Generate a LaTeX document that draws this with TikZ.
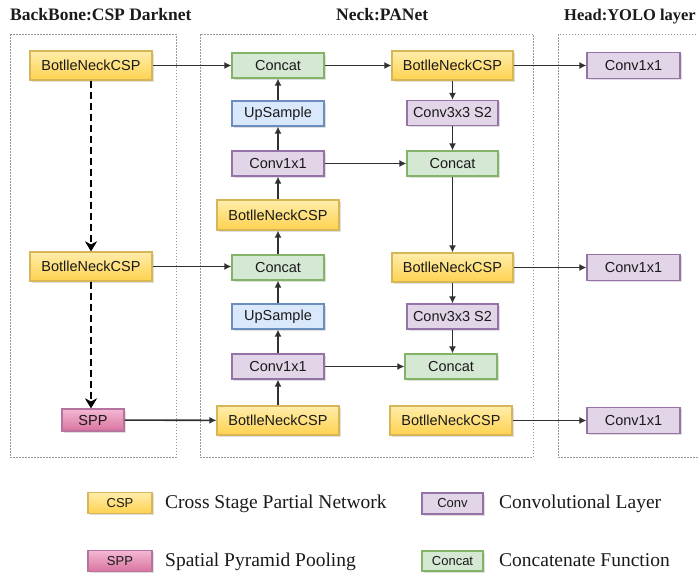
\documentclass[tikz,border=0pt]{standalone}
\usepackage{fontspec}
\setmainfont{Liberation Serif}
\setsansfont{Liberation Sans}
\usetikzlibrary{arrows.meta,shadows}
\definecolor{ylT}{HTML}{FFEDAA}
\definecolor{ylB}{HTML}{FFD250}
\definecolor{ylD}{HTML}{D6B656}
\definecolor{pkT}{HTML}{F3B8D4}
\definecolor{pkB}{HTML}{D9739F}
\definecolor{pkD}{HTML}{B5739D}
\definecolor{puF}{HTML}{E1D5E7}
\definecolor{puD}{HTML}{9673A6}
\definecolor{blF}{HTML}{DAE8FC}
\definecolor{blD}{HTML}{6C8EBF}
\definecolor{grF}{HTML}{D5E8D4}
\definecolor{grD}{HTML}{82B366}
\definecolor{lineC}{HTML}{303030}
\definecolor{txtC}{HTML}{1A1A1A}
\definecolor{frameC}{HTML}{9A9A9A}
\tikzset{
  blk/.style={draw, line width=1.2pt, inner sep=0pt, text=txtC,
    font=\sffamily\fontsize{14.5}{16}\selectfont,
    drop shadow={shadow xshift=1.5pt, shadow yshift=-1.5pt, opacity=0.25}},
  yel/.style={blk, top color=ylT, bottom color=ylB, draw=ylD, minimum width=122pt, minimum height=29pt},
  pnk/.style={blk, top color=pkT, bottom color=pkB, draw=pkD},
  pur/.style={blk, fill=puF, draw=puD, minimum width=92pt, minimum height=25pt},
  blu/.style={blk, fill=blF, draw=blD, minimum width=92pt, minimum height=25pt},
  grn/.style={blk, fill=grF, draw=grD, minimum width=92pt, minimum height=25pt},
  conn/.style={draw=lineC, line width=1.6pt, -{Latex[length=7pt,width=7pt]}},
  dconn/.style={draw=black, line width=2.8pt, dash pattern=on 7pt off 4pt,
    -{Stealth[length=10pt,width=12pt,inset=3pt]}},
  frame/.style={draw=frameC, line width=1pt, dash pattern=on 1.5pt off 1.5pt},
  ttl/.style={anchor=base west, inner sep=0pt, text=txtC, font=\bfseries\fontsize{17.5}{19}\selectfont},
  lgt/.style={anchor=base west, inner sep=0pt, text=txtC, font=\fontsize{19.5}{22}\selectfont},
  lgs/.style={font=\sffamily\fontsize{13}{14}\selectfont, minimum height=21pt}
}
\begin{document}
\begin{tikzpicture}[x=1pt,y=-1pt]
\useasboundingbox (0,0) rectangle (698,576);
% frames
\draw[frame] (10,34) rectangle (176,457);
\draw[frame] (200,34) rectangle (533,457);
\draw[frame] (558,34) rectangle (720,457);
% titles
\node[ttl] (t1) at (10,20.5) {BackBone:CSP Darknet};
\node[ttl] (t2) at (336,20.5) {Neck:PANet};
\node[ttl, font=\bfseries\fontsize{16.5}{18}\selectfont] (t3) at (564,20.5) {Head:YOLO layer};
% backbone
\node[yel] (bb1) at (91,65.5) {BotlleNeckCSP};
\node[yel] (bb2) at (91,266.5) {BotlleNeckCSP};
\node[pnk, minimum width=62pt, minimum height=22pt] (spp) at (93,420) {SPP};
% neck column 1
\node[grn] (nc1) at (278,65.5) {Concat};
\node[blu] (nu1) at (278,113.5) {UpSample};
\node[pur] (nv1) at (278,163.5) {Conv1x1};
\node[yel, minimum height=30pt] (nb1) at (278,215) {BotlleNeckCSP};
\node[grn] (nc2) at (278,267.5) {Concat};
\node[blu] (nu2) at (278,316.5) {UpSample};
\node[pur] (nv2) at (278,366.5) {Conv1x1};
\node[yel] (nb2) at (278,420.5) {BotlleNeckCSP};
% neck column 2
\node[yel, minimum width=121pt] (mb1) at (452.5,65.5) {BotlleNeckCSP};
\node[pur, minimum width=91pt] (m3a) at (452.5,113) {Conv3x3 S2};
\node[grn, minimum width=91pt] (mc1) at (452.5,163.5) {Concat};
\node[yel, minimum width=121pt] (mb2) at (452.5,267.5) {BotlleNeckCSP};
\node[pur, minimum width=91pt] (m3b) at (452.5,316.5) {Conv3x3 S2};
\node[grn] (mc2) at (451,366.5) {Concat};
\node[yel] (mb3) at (451,420.5) {BotlleNeckCSP};
% head
\node[pur, minimum width=93pt, minimum height=26pt] (h1) at (633.5,65.5) {Conv1x1};
\node[pur, minimum width=93pt, minimum height=26pt] (h2) at (633.5,267.5) {Conv1x1};
\node[pur, minimum width=93pt, minimum height=26pt] (h3) at (633.5,420.5) {Conv1x1};
% backbone connectors
\draw[dconn] (bb1) -- (bb2);
\draw[dconn] (bb2.south) -- (bb2.south |- spp.north);
\draw[conn] (bb1) -- (nc1);
\draw[conn] (bb2.east) -- (bb2.east -| nc2.west);
\draw[conn] (spp) -- (nb2);
% neck up path
\draw[conn] (nb2) -- (nv2);
\draw[conn] (nv2) -- (nu2);
\draw[conn] (nu2) -- (nc2);
\draw[conn] (nc2) -- (nb1);
\draw[conn] (nb1) -- (nv1);
\draw[conn] (nv1) -- (nu1);
\draw[conn] (nu1) -- (nc1);
\draw[conn] (nc1) -- (mb1);
% neck down path
\draw[conn] (mb1) -- (m3a);
\draw[conn] (m3a) -- (mc1);
\draw[conn] (mc1) -- (mb2);
\draw[conn] (mb2) -- (m3b);
\draw[conn] (m3b.south) -- (m3b.south |- mc2.north);
\draw[conn] (nv1) -- (mc1);
\draw[conn] (nv2) -- (mc2);
% to head
\draw[conn] (mb1) -- (h1);
\draw[conn] (mb2) -- (h2);
\draw[conn] (mb3) -- (h3);
% legend
\node[yel, lgs, minimum width=64pt, minimum height=21pt] (lcsp) at (120,503) {CSP};
\node[lgt] (lcspt) at (165,508) {Cross Stage Partial Network};
\node[pnk, lgs, minimum width=64pt] (lspp) at (120,561) {SPP};
\node[lgt] (lsppt) at (165,566) {Spatial Pyramid Pooling};
\node[pur, lgs, minimum width=61pt] (lconv) at (452.5,503.5) {Conv};
\node[lgt] (lconvt) at (499,508) {Convolutional Layer};
\node[grn, lgs, minimum width=61pt, minimum height=20pt] (lcat) at (452.5,561) {Concat};
\node[lgt] (lcatt) at (499,566) {Concatenate Function};
\end{tikzpicture}
\end{document}
